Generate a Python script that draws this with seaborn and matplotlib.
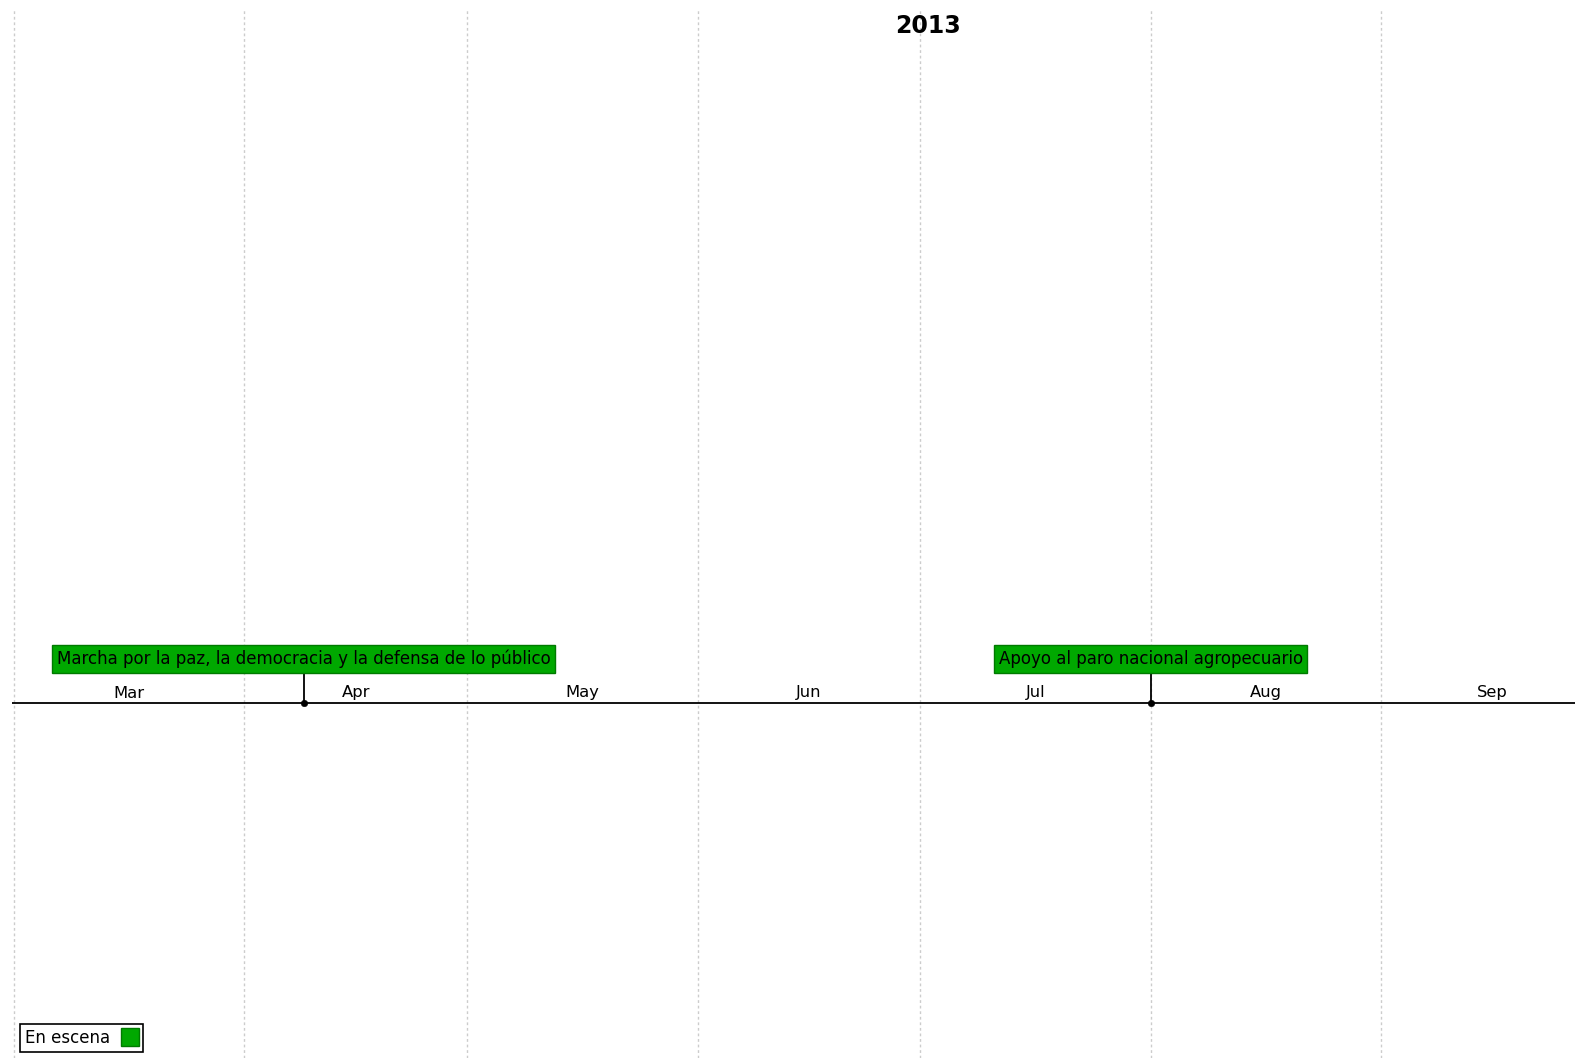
import pandas as pd
import seaborn as sns
import matplotlib.pyplot as plt
from matplotlib.lines import Line2D

# data
event_dates = ['2013-04-09', '2013-08-01']
event_names = ['Marcha por la paz, la democracia y la defensa de lo público',
               'Apoyo al paro nacional agropecuario']
event_status = ['En escena', 'En escena']
month_starts = ['2013-03-01', '2013-04-01', '2013-05-01', '2013-06-01',
                '2013-07-01', '2013-08-01', '2013-09-01']
month_labels = ['Mar', 'Apr', 'May', 'Jun', 'Jul', 'Aug', 'Sep']
year_label = '2013'

df = pd.DataFrame({'date': pd.to_datetime(event_dates), 'name': event_names,
                   'status': event_status})
df['level'] = 0.0
months = pd.to_datetime(month_starts)

sns.set_style('white')
plt.rcParams['font.family'] = ['DejaVu Sans']
green = '#00a800'

fig = plt.figure(figsize=(15.75, 10.58), dpi=100)
ax = fig.add_axes([12 / 1575, 0, 1 - 12 / 1575, 1 - 8 / 1058])

# month grid lines and labels
for m, lab in zip(months, month_labels):
    ax.axvline(m, color='#cccccc', lw=1, ls=(0, (2, 2)), zorder=0)
    mid = m + (m + pd.offsets.MonthBegin(1) - m) / 2
    ax.text(mid, 0.10, lab, ha='center', va='center', fontsize=11.8, color='black')

# main timeline
ax.axhline(0, color='black', lw=1.3, zorder=1)

# stems and labels
ax.vlines(df['date'], 0, 0.30, color='black', lw=1.3, zorder=2)
sns.scatterplot(data=df, x='date', y='level', color='black', s=22,
                edgecolor='black', zorder=3, ax=ax, legend=False)
for d, n in zip(df['date'], df['name']):
    ax.text(d, 0.44, n, ha='center', va='center', fontsize=12, color='black',
            bbox=dict(boxstyle='square,pad=0.28', facecolor=green,
                      edgecolor='#007a00', lw=1))

# year title at middle of the year
ax.text(pd.Timestamp('2013-07-02'), 6.77, year_label, ha='center', va='center',
        fontsize=17, fontweight='bold', color='black')

ax.set_xlim(pd.Timestamp('2013-02-28 17:00'), pd.Timestamp('2013-09-27 03:00'))
ax.set_ylim(-3.55, 6.95)
ax.set_xlabel('')
ax.set_ylabel('')
ax.set_xticks([])
ax.set_yticks([])
for s in ax.spines.values():
    s.set_visible(False)

handle = Line2D([], [], marker='s', ls='', markersize=13,
                markerfacecolor=green, markeredgecolor='#007a00')
leg = ax.legend([handle], ['En escena'], loc='lower left', markerfirst=False,
                bbox_to_anchor=(8 / 1563, 6 / 1050), fontsize=12,
                fancybox=False, edgecolor='black', framealpha=1,
                borderpad=0.3, handletextpad=0.7, handlelength=1.0,
                borderaxespad=0)
leg.get_frame().set_linewidth(1.2)
for t in leg.get_texts():
    t.set_color('black')

fig.savefig('out.png', dpi=100)
